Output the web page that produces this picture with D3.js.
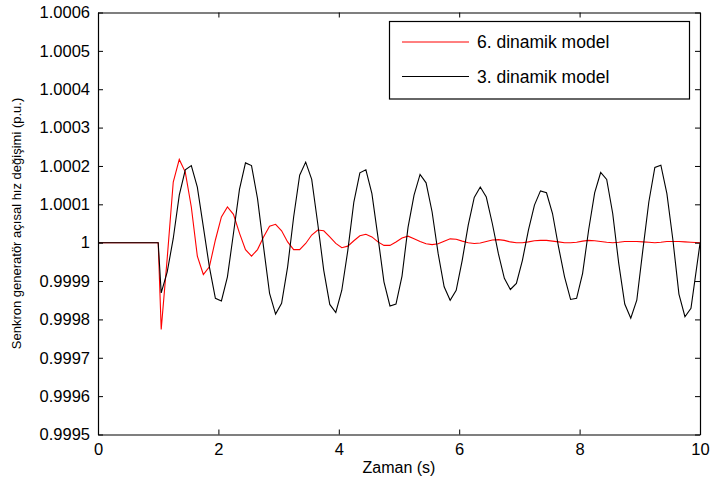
<!DOCTYPE html>
<html>
<head>
<meta charset="utf-8">
<script src="https://cdn.jsdelivr.net/npm/d3@7"></script>
<style>
  body { margin: 0; background: #fff; }
  text { font-family: "Liberation Sans", Arial, sans-serif; }
</style>
</head>
<body>
<div id="chart"></div>
<script>
const seriesNames = ['6. dinamik model', '3. dinamik model'];
const seriesColors = ['#ff0000', '#000000'];
const xTicks = [0, 2, 4, 6, 8, 10];
const yTicks = [0.9995, 0.9996, 0.9997, 0.9998, 0.9999, 1, 1.0001, 1.0002, 1.0003, 1.0004, 1.0005, 1.0006];

const preFaultTimes = [0, 1.0];
const firstSample = 1.05;
const sampleStep = 0.1;
const endTime = 10;

const model6 = [
  0.999774, 0.99996, 1.000158, 1.000217, 1.000184, 1.000093, 0.999965, 0.999917, 0.999937, 1.000007,
  1.000067, 1.000093, 1.000074, 1.000025, 0.999982, 0.999965, 0.999982, 1.000015, 1.000043, 1.000048,
  1.000031, 1.000002, 0.999982, 0.999982, 0.999998, 1.00002, 1.000033, 1.000031, 1.000015, 0.999998,
  0.999987, 0.999991, 1.000005, 1.000018, 1.000022, 1.000015, 1.000002, 0.999993, 0.999993, 1.000002,
  1.000012, 1.000017, 1.00001, 1.000003, 0.999997, 0.999995, 0.999997, 1.000004, 1.00001, 1.000009,
  1.000004, 1, 0.999998, 0.999999, 1.000003, 1.000007, 1.000008, 1.000006, 1.000002, 1,
  1, 1.000002, 1.000005, 1.000006, 1.000006, 1.000004, 1.000002, 1, 1, 1.000001,
  1.000004, 1.000006, 1.000005, 1.000003, 1.000001, 1, 1.000001, 1.000003, 1.000003, 1.000003,
  1.000002, 1.000001, 1, 1.000001, 1.000003, 1.000003, 1.000003, 1.000002, 1.000001
];
const model3 = [
  0.999869, 0.999924, 1.000011, 1.000124, 1.00019, 1.000201, 1.000145, 1.000041, 0.999937, 0.999855,
  0.999848, 0.999911, 1.000024, 1.000139, 1.000208, 1.000201, 1.000115, 0.999989, 0.999868, 0.999814,
  0.999842, 0.999937, 1.000067, 1.000176, 1.00021, 1.000165, 1.00005, 0.999928, 0.999839, 0.999818,
  0.999876, 0.99998, 1.000106, 1.000182, 1.00019, 1.000128, 1.000015, 0.999898, 0.999835, 0.99984,
  0.999913, 1.00004, 1.000124, 1.000178, 1.000156, 1.00008, 0.999972, 0.999885, 0.99985, 0.999876,
  0.999954, 1.000046, 1.000118, 1.000145, 1.000119, 1.00005, 0.999972, 0.999907, 0.999878, 0.999894,
  0.999954, 1.000033, 1.000098, 1.000135, 1.00013, 1.000076, 0.999989, 0.999911, 0.999852, 0.999855,
  0.99992, 1.000033, 1.00013, 1.000183, 1.000165, 1.000076, 0.999946, 0.99984, 0.999803, 0.99985,
  0.99998, 1.000106, 1.000196, 1.000202, 1.000128, 1.000007, 0.999866, 0.999807, 0.999829
];
const preFaultValue = 1;
const endValues = [1, 0.999998];

const width = 712, height = 487;
const margin = { left: 98, right: 12, top: 12.5, bottom: 52.5 };

const svg = d3.select('#chart').append('svg')
  .attr('width', width)
  .attr('height', height);

const x = d3.scaleLinear().domain([0, 10]).range([margin.left, width - margin.right]);
const y = d3.scaleLinear().domain([0.9995, 1.0006]).range([height - margin.bottom, margin.top]);

// Build point lists for each series
const buildSeries = (values, endValue) => {
  const pts = preFaultTimes.map((t) => [t, preFaultValue]);
  values.forEach((v, i) => pts.push([firstSample + i * sampleStep, v]));
  pts.push([endTime, endValue]);
  return pts;
};
const series = [buildSeries(model6, endValues[0]), buildSeries(model3, endValues[1])];

const line = d3.line().x((d) => x(d[0])).y((d) => y(d[1]));

// Draw lines
svg.append('g').selectAll('path')
  .data(series)
  .join('path')
    .attr('fill', 'none')
    .attr('stroke', (d, i) => seriesColors[i])
    .attr('stroke-width', 1.1)
    .attr('d', line);

// Axes with inward ticks, MATLAB style box
const tickFont = 16.5;
const gx = svg.append('g')
  .attr('transform', `translate(0,${y.range()[0]})`)
  .call(d3.axisBottom(x).tickValues(xTicks).tickSizeInner(-5).tickSizeOuter(0).tickPadding(8));
const gxTop = svg.append('g')
  .attr('transform', `translate(0,${y.range()[1]})`)
  .call(d3.axisTop(x).tickValues(xTicks).tickSizeInner(-5).tickSizeOuter(0).tickFormat(''));
const gy = svg.append('g')
  .attr('transform', `translate(${x.range()[0]},0)`)
  .call(d3.axisLeft(y).tickValues(yTicks).tickSizeInner(-5).tickSizeOuter(0).tickPadding(8)
    .tickFormat((d) => d3.format('.4f')(d).replace(/\.?0+$/, '')));
const gyRight = svg.append('g')
  .attr('transform', `translate(${x.range()[1]},0)`)
  .call(d3.axisRight(y).tickValues(yTicks).tickSizeInner(-5).tickSizeOuter(0).tickFormat(''));

[gx, gxTop, gy, gyRight].forEach((g) => {
  g.select('.domain').attr('stroke', '#000').attr('stroke-width', 1.2);
  g.selectAll('.tick line').attr('stroke', '#000');
  g.selectAll('.tick text')
    .attr('fill', '#000')
    .style('font-size', tickFont + 'px')
    .style('font-family', '"Liberation Sans", Arial, sans-serif');
});
gx.selectAll('.tick text').attr('dy', '0.75em');

// Axis titles
svg.append('text')
  .attr('x', (x.range()[0] + x.range()[1]) / 2)
  .attr('y', 473)
  .attr('text-anchor', 'middle')
  .style('font-size', '16px')
  .text('Zaman (s)');

svg.append('text')
  .attr('transform', `translate(21,${(y.range()[0] + y.range()[1]) / 2}) rotate(-90)`)
  .attr('text-anchor', 'middle')
  .style('font-size', '13px')
  .text('Senkron generatör açısal hız değişimi (p.u.)');

// Legend
const legend = svg.append('g');
legend.append('rect')
  .attr('x', 389.5).attr('y', 21.5)
  .attr('width', 300).attr('height', 77.5)
  .attr('fill', '#fff')
  .attr('stroke', '#000')
  .attr('stroke-width', 1.2);

const legendRows = legend.selectAll('g.row')
  .data(seriesNames)
  .join('g')
    .attr('class', 'row')
    .attr('transform', (d, i) => `translate(0,${42 + i * 34.5})`);
legendRows.append('line')
  .attr('x1', 402).attr('x2', 469)
  .attr('stroke', (d, i) => seriesColors[i])
  .attr('stroke-width', 1);
legendRows.append('text')
  .attr('x', 477)
  .attr('dy', '0.35em')
  .style('font-size', '17.5px')
  .text((d) => d);
</script>
</body>
</html>
